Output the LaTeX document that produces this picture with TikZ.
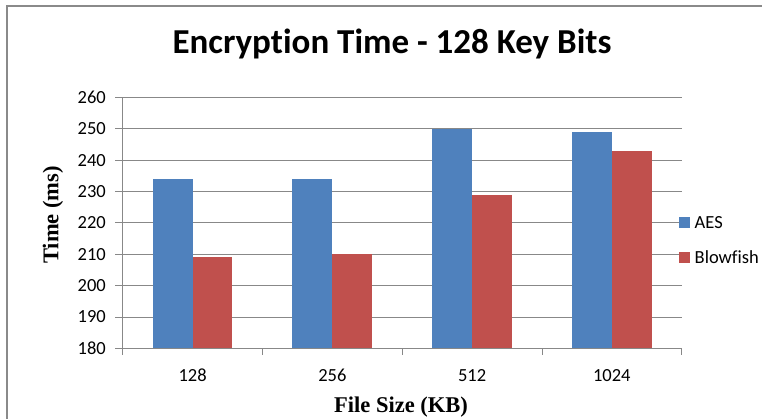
\documentclass[tikz,border=0pt]{standalone}
\usepackage{fontspec}
\setmainfont{Carlito}[Ligatures=NoCommon]
\newfontfamily\axfont{Liberation Serif}
\definecolor{aesblue}{HTML}{4F81BD}
\definecolor{bfred}{HTML}{C0504D}
\definecolor{gridgray}{HTML}{888888}
\definecolor{framegray}{HTML}{8A8A8A}
\begin{document}
\begin{tikzpicture}[x=1pt,y=-1pt,
  gridline/.style={draw=gridgray,line width=0.9pt},
  aesbar/.style={fill=aesblue,draw=none},
  bfbar/.style={fill=bfred,draw=none},
  ticklab/.style={font=\fontsize{18.5}{20}\selectfont,inner sep=0pt},
  axtitle/.style={font=\axfont\bfseries\fontsize{22.5}{24}\selectfont,inner sep=0pt},
  legsq/.style={minimum size=10.7pt,inner sep=0pt}
]
\useasboundingbox (0,0) rectangle (762,419);
\fill[white] (0,0) rectangle (762,419);
% frame (left and top edges visible)
\draw[framegray,line width=2pt] (7,419) -- (7,6) -- (762,6);
% title
\node[font=\bfseries\fontsize{35}{38}\selectfont,inner sep=0pt,anchor=base] (title) at (392,53.5) {Encryption Time - 128 Key Bits};
% gridlines and y labels
\foreach \v/\yy in {190/316.95,200/285.6,210/254.25,220/222.9,230/191.55,240/160.2,250/128.85,260/97.5}{
  \draw[gridline] (115,\yy) -- (681.7,\yy);
}
\foreach \v/\yy in {180/348.3,190/316.95,200/285.6,210/254.25,220/222.9,230/191.55,240/160.2,250/128.85,260/97.5}{
  \node[ticklab,anchor=east] (yl\v) at (106,\yy) {\v};
}
% bars
\begin{scope}[shift={(0,348.3)},yscale=3.135]
\foreach \i/\a/\b in {0/234/209,1/234/210,2/250/229,3/249/243}{
  \pgfmathsetmacro\L{122.7+139.75*\i}
  \pgfmathsetmacro\ha{-(\a-180)}
  \pgfmathsetmacro\hb{-(\b-180)}
  \fill[aesbar] (\L+29.9,0) rectangle (\L+69.8,\ha);
  \fill[bfbar] (\L+69.8,0) rectangle (\L+109.75,\hb);
}
\end{scope}
% axes
\draw[gridline] (122.7,97.5) -- (122.7,348.3);
\draw[gridline] (115,348.3) -- (681.7,348.3);
\foreach \i in {0,1,2,3,4}{
  \draw[gridline] ({122.7+139.75*\i},348.3) -- ({122.7+139.75*\i},355);
}
% x labels
\foreach \i/\t in {0/128,1/256,2/512,3/1024}{
  \node[ticklab] (xl\i) at ({122.7+139.75*\i+69.9},375.5) {\t};
}
% axis titles
\node[axtitle] (xtitle) at (401,407) {File Size (KB)};
\node[axtitle,rotate=90] (ytitle) at (53,215) {Time (ms)};
% legend
\node[legsq,fill=aesblue] (legA) at (684.8,222.6) {};
\node[legsq,fill=bfred] (legB) at (684.8,257.6) {};
\node[ticklab,anchor=west] (legAt) at (694.5,222.6) {AES};
\node[ticklab,anchor=west] (legBt) at (694.5,257.6) {Blowfish};
\end{tikzpicture}
\end{document}
